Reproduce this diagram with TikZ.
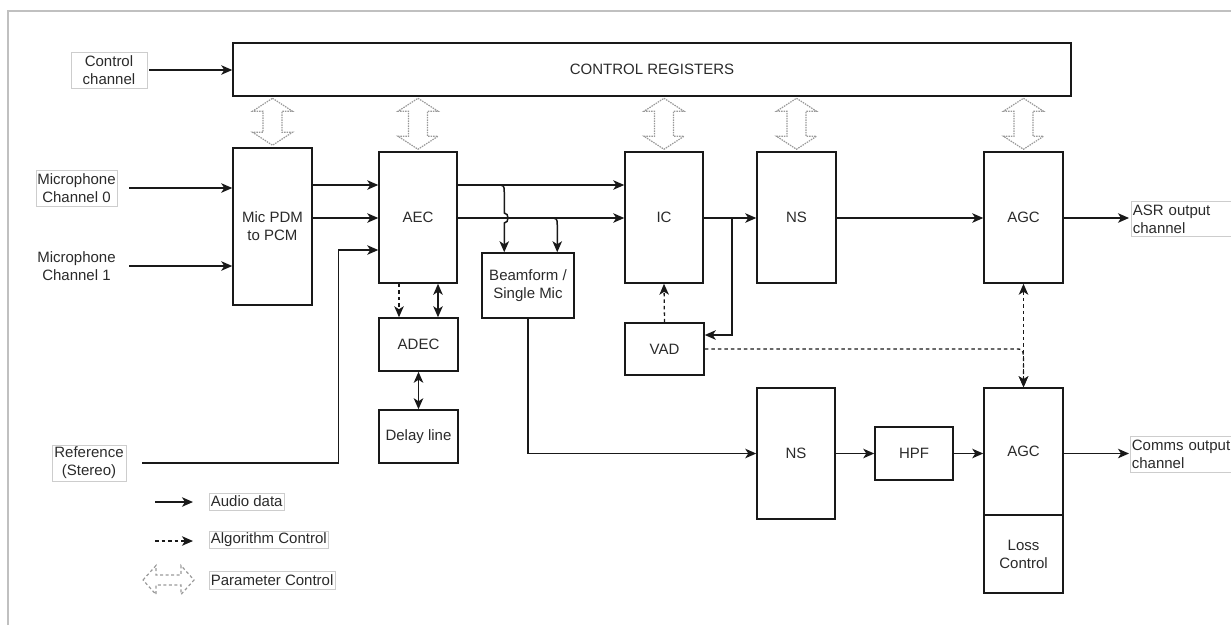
\documentclass[tikz,border=0pt]{standalone}
\usepackage{fontspec}
\setmainfont{Liberation Sans}
\usetikzlibrary{calc,arrows.meta}
\definecolor{txt}{HTML}{2A2A2A}
\definecolor{frm}{HTML}{C0C0C0}
\definecolor{pgray}{HTML}{999999}
\newcommand\ParamV[1]{%
  \coordinate (pt) at ($(#1.north |- reg.south)+(0,1.5)$);
  \coordinate (pb) at ($(#1.north)+(0,-2)$);
  \draw[param] (pt) -- ++(20,13) -- ++(-10.5,0) -- ($(pb)+(9.5,-13)$) -- ++(10.5,0) -- (pb)
    -- ++(-20,-13) -- ++(10.5,0) -- ($(pt)+(-9.5,13)$) -- ++(-10.5,0) -- cycle;}
\tikzset{tip/.tip={Stealth[length=11pt,width=9.5pt,inset=3pt]}}
\begin{document}
\begin{tikzpicture}[x=1pt,y=-1pt,
  every node/.style={font=\fontsize{15}{18}\selectfont, text=txt},
  blk/.style={draw=black!90, line width=1.5pt, inner sep=0pt, align=center},
  lbl/.style={draw=frm!80, line width=0.7pt, inner sep=1pt, align=center},
  lblL/.style={draw=frm!80, line width=0.7pt, inner xsep=1.5pt, inner ysep=0pt, align=left},
  aud/.style={line width=1.5pt, draw=black!90, -tip},
  audd/.style={line width=1.5pt, draw=black!90, tip-tip},
  alg/.style={line width=1.3pt, draw=black!90, dash pattern=on 3.5pt off 3pt, -tip},
  algd/.style={line width=1.3pt, draw=black!90, dash pattern=on 3.5pt off 3pt, tip-tip},
  param/.style={draw=pgray, line width=1.2pt, dash pattern=on 1.5pt off 1pt, line join=miter},
  paramL/.style={draw=pgray, line width=1.2pt, dash pattern=on 3pt off 2.5pt}
]
\useasboundingbox (0,0) rectangle (1231,625);
% frame
\draw[frm, line width=2pt] (8,625) -- (8,11) -- (1231,11);

% rows
\coordinate (r1) at (0,185);
\coordinate (r2) at (0,218);
\coordinate (r3) at (0,250);

% blocks
\node[blk, minimum width=838pt, minimum height=53pt] (reg) at (652,69.5) {CONTROL REGISTERS};
\node[blk, minimum width=79pt, minimum height=157pt] (pdm) at (272.5,226.5) {Mic PDM\\to PCM};
\node[blk, minimum width=78pt, minimum height=131pt] (aec) at (418,217.5) {AEC};
\node[blk, minimum width=79pt, minimum height=53pt] (adec) at (418.5,344.5) {ADEC};
\node[blk, minimum width=79pt, minimum height=53pt] (delay) at (418.5,436.5) {Delay line};
\node[blk, minimum width=92pt, minimum height=65pt] (bf) at (528,285.5) {Beamform /\\Single Mic};
\node[blk, minimum width=78pt, minimum height=131pt] (ic) at (664,217.5) {IC};
\node[blk, minimum width=79pt, minimum height=52pt] (vad) at (664.5,349) {VAD};
\node[blk, minimum width=79pt, minimum height=131pt] (ns1) at (796.5,217.5) {NS};
\node[blk, minimum width=79pt, minimum height=131pt] (agc1) at (1023.5,217.5) {AGC};
\node[blk, minimum width=78pt, minimum height=131pt] (ns2) at (796,453.5) {NS};
\node[blk, minimum width=78pt, minimum height=53pt] (hpf) at (914,453.5) {HPF};
\node[blk, minimum width=79pt, minimum height=127pt] (agc2) at (1023.5,451.5) {AGC};
\node[blk, minimum width=79pt, minimum height=78pt] (loss) at (1023.5,554) {Loss\\Control};

% labels
\node[lbl, minimum width=76pt, minimum height=36pt] (ctl) at (109,70) {Control\\channel};
\node[lbl, minimum width=81pt, minimum height=36pt] (mic0) at (76.5,188) {Microphone\\Channel 0};
\node[align=center, inner sep=1pt, minimum width=81pt] (mic1) at (76.5,266) {Microphone\\Channel 1};
\node[lbl, minimum width=74pt, minimum height=36pt] (ref) at (89,463) {Reference\\(Stereo)};
\node[lblL, anchor=north west, text width=110pt, minimum height=35pt] (asr) at (1131,201) {ASR output\\channel};
\node[lblL, anchor=north west, text width=110pt, minimum height=36pt] (comms) at (1130,436) {Comms output\\channel};

% parameter control arrows
\ParamV{pdm}
\ParamV{aec}
\ParamV{ic}
\ParamV{ns1}
\ParamV{agc1}

% audio connectors
\draw[aud, shorten <=2pt] (ctl.east) -- (reg.west |- ctl.east);
\draw[aud, shorten <=12pt] (mic0.east) -- (pdm.west |- mic0.east);
\draw[aud, shorten <=12pt] (mic1.east) -- (pdm.west |- mic1.east);
\draw[aud] (pdm.east |- r1) -- (aec.west |- r1);
\draw[aud] (pdm.east |- r2) -- (aec.west |- r2);
\draw[aud, shorten <=16pt] (ref.east) -| ($(aec.west |- r3)+(-40,0)$) -- (aec.west |- r3);
\draw[aud] (aec.east |- r1) -- (ic.west |- r1);
\draw[aud] (aec.east |- r2) -- (ic.west |- r2);

\coordinate (b1) at ($(bf.north west)+(23,0)$);
\coordinate (b2) at ($(bf.north west)+(76,0)$);
\draw[aud] ($(b1 |- r1)+(-8,0)$) .. controls (b1 |- r1) .. ($(b1 |- r1)+(0,8)$)
  -- ($(b1 |- r2)+(0,-5)$) .. controls +(5,0) and +(5,0) .. ($(b1 |- r2)+(0,5)$) -- (b1);
\draw[aud] ($(b2 |- r2)+(-8,0)$) .. controls (b2 |- r2) .. ($(b2 |- r2)+(0,8)$) -- (b2);

\draw[alg] ([xshift=-19pt]aec.south) -- ([xshift=-19pt]aec.south |- adec.north);
\draw[audd] ([xshift=20pt]aec.south) -- ([xshift=20pt]aec.south |- adec.north);
\draw[audd] (adec.south) -- (delay.north);

\draw[aud] (bf.south) |- (ns2.west);
\draw[aud] (ic.east |- r2) -- (ns1.west |- r2);
\coordinate (j) at ($(ic.east |- r2)+(28,0)$);
\draw[aud] (j) |- ($(vad.east)+(0,-14)$);
\draw[alg] (vad.north) -- (ic.south);
\draw[aud] (ns1.east |- r2) -- (agc1.west |- r2);
\draw[aud, shorten >=2pt] (agc1.east |- r2) -- (asr.west |- r2);
\draw[algd] (agc1.south) -- (agc2.north);
\coordinate (k) at (agc2.north |- vad.east);
\draw[alg] (vad.east) -- ($(k)+(-9,0)$) .. controls ($(k)+(-1,0)$) .. ($(k)+(0,7)$) -- (agc2.north);
\draw[aud] (ns2.east) -- (hpf.west);
\draw[aud] (hpf.east) -- (agc2.west |- hpf.east);
\draw[aud, shorten >=1pt] (agc2.east |- hpf.east) -- (comms.west |- hpf.east);

% legend
\coordinate (la1) at (155,502); \coordinate (la2) at (193,502);
\coordinate (lb1) at (155,541); \coordinate (lb2) at (193,541);
\draw[aud] (la1) -- (la2);
\draw[alg] (lb1) -- (lb2);
\draw[paramL] (143,580) -- ++(13,-14.5) -- ++(0,9.5) -- ++(25,0) -- ++(0,-9.5) -- (194,580)
  -- ++(-13,14.5) -- ++(0,-9.5) -- ++(-25,0) -- ++(0,9.5) -- cycle;
\node[lblL, anchor=west, minimum height=17pt] (lga) at (209,501.5) {Audio data};
\node[lblL, anchor=west, minimum height=17pt] (lgb) at (209,539.5) {Algorithm Control};
\node[lblL, anchor=west, minimum height=18pt] (lgc) at (209,580) {Parameter Control};
\end{tikzpicture}
\end{document}
